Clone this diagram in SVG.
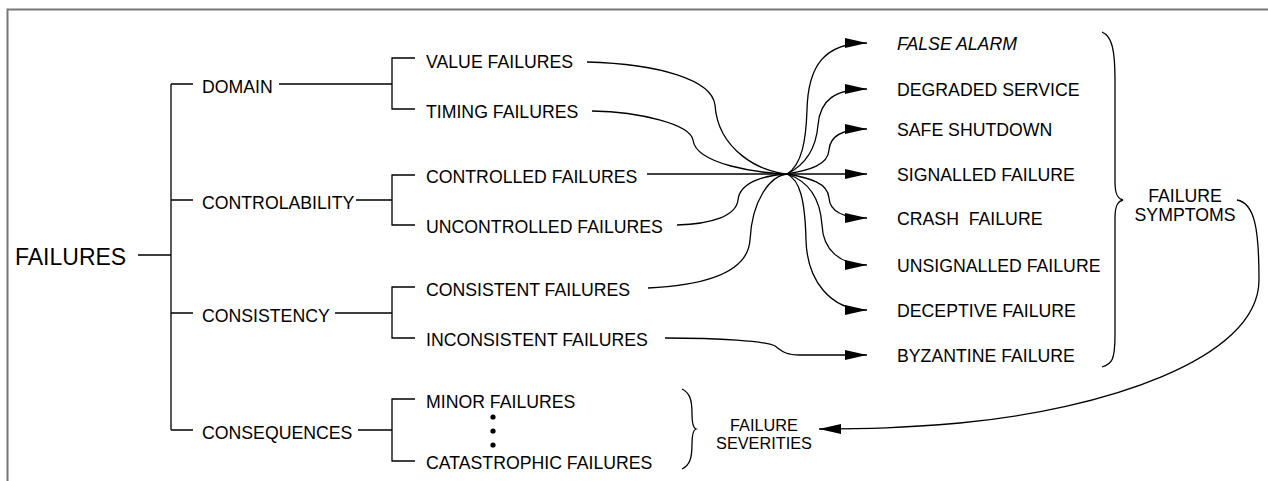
<svg xmlns="http://www.w3.org/2000/svg" width="1268" height="481" viewBox="0 0 1268 481">
<defs>
<style>
text{font-family:"Liberation Sans",Arial,sans-serif;font-size:17.7px;fill:#000;white-space:pre}
.big{font-size:23px}
.sm{font-size:16.3px}
.ln{fill:none;stroke:#000;stroke-width:1.3}
.mid{text-anchor:middle}
</style>
<marker id="ah" viewBox="0 0 22 10" refX="22" refY="5" markerWidth="22" markerHeight="10" markerUnits="userSpaceOnUse" orient="auto">
<path d="M0,0 L22,5 L0,10 Z" fill="#000"/>
</marker>
</defs>
<rect x="0" y="0" width="1268" height="481" fill="#fff"/>
<rect x="7.5" y="9.5" width="1275" height="480" fill="none" stroke="#777" stroke-width="2"/>

<g id="tree">
<path class="ln" d="M138,255 H171 M171,84 V430 M171,84 H193 M171,200 H193 M171,313 H193 M171,430 H193"/>
<path class="ln" d="M279,84 H392 M356,200 H392 M335,313 H392 M358,430 H392"/>
<path class="ln" d="M415,58 H392 V109 H415 M415,175 H392 V225 H415 M415,287 H392 V338 H415 M415,399 H392 V461 H415"/>
</g>

<g id="n-failures"><text class="big" x="15" y="265">FAILURES</text></g>
<g id="n-domain"><text x="202" y="93">DOMAIN</text></g>
<g id="n-controlability"><text x="202" y="209">CONTROLABILITY</text></g>
<g id="n-consistency"><text x="202" y="322">CONSISTENCY</text></g>
<g id="n-consequences"><text x="202" y="439">CONSEQUENCES</text></g>

<g id="n-value"><text x="426" y="68">VALUE FAILURES</text></g>
<g id="n-timing"><text x="426" y="118">TIMING FAILURES</text></g>
<g id="n-controlled"><text x="426" y="183">CONTROLLED FAILURES</text></g>
<g id="n-uncontrolled"><text x="426" y="233">UNCONTROLLED FAILURES</text></g>
<g id="n-consistent"><text x="426" y="296">CONSISTENT FAILURES</text></g>
<g id="n-inconsistent"><text x="426" y="346">INCONSISTENT FAILURES</text></g>
<g id="n-minor"><text x="426" y="408">MINOR FAILURES</text></g>
<g id="n-dots"><circle cx="493" cy="417" r="2.6"/><circle cx="493" cy="431" r="2.6"/><circle cx="493" cy="445" r="2.6"/></g>
<g id="n-catastrophic"><text x="426" y="469">CATASTROPHIC FAILURES</text></g>

<g id="n-severities">
<path class="ln" d="M682,389 C690,393 692,400 692,414 C692,424 693,428 696,429 C693,430 692,434 692,444 C692,458 690,465 682,469"/>
<text class="mid sm" x="764" y="431">FAILURE</text>
<text class="mid sm" x="764" y="449">SEVERITIES</text>
</g>

<g id="n-false-alarm"><text x="897" y="50" font-style="italic">FALSE ALARM</text></g>
<g id="n-degraded"><text x="897" y="96">DEGRADED SERVICE</text></g>
<g id="n-safe"><text x="897" y="136">SAFE SHUTDOWN</text></g>
<g id="n-signalled"><text x="897" y="181">SIGNALLED FAILURE</text></g>
<g id="n-crash"><text x="897" y="225">CRASH  FAILURE</text></g>
<g id="n-unsignalled"><text x="897" y="272">UNSIGNALLED FAILURE</text></g>
<g id="n-deceptive"><text x="897" y="317">DECEPTIVE FAILURE</text></g>
<g id="n-byzantine"><text x="897" y="362">BYZANTINE FAILURE</text></g>

<g id="n-symptoms">
<path class="ln" d="M1102,32 C1112,36 1115,50 1115,80 L1115,182 C1115,195 1118,199 1123,200 C1118,201 1115,205 1115,218 L1115,335 C1115,360 1112,364 1102,367"/>
<text class="mid" x="1185" y="202">FAILURE</text>
<text class="mid" x="1185" y="221">SYMPTOMS</text>
</g>

<g id="connectors">
<path class="ln" d="M587,62 C660,64 712,80 715,105 C718,150 760,172 787,174"/>
<path class="ln" d="M592,111 C640,112 690,124 693,140 C696,165 760,173 787,174"/>
<path class="ln" d="M677,225 C712,224 736,216 738,200 C740,180 770,175 787,174"/>
<path class="ln" d="M648,288 C712,285 748,270 750,240 C752,200 770,176 787,174"/>
<path class="ln" d="M647,174 H867" marker-end="url(#ah)"/>
<path class="ln" d="M787,174 C802,165 806,140 807,110 C808,65 825,43 867,43" marker-end="url(#ah)"/>
<path class="ln" d="M787,174 C805,165 816,150 818,125 C820,100 835,89 867,89" marker-end="url(#ah)"/>
<path class="ln" d="M787,174 C810,170 828,165 829,150 C830,135 845,129 867,129" marker-end="url(#ah)"/>
<path class="ln" d="M787,174 C810,178 828,183 829,198 C830,212 845,218 867,218" marker-end="url(#ah)"/>
<path class="ln" d="M787,174 C805,180 820,195 822,225 C823,250 840,265 867,265" marker-end="url(#ah)"/>
<path class="ln" d="M787,174 C800,180 805,200 806,240 C807,280 830,310 867,310" marker-end="url(#ah)"/>
<path class="ln" d="M665,338 C720,338 765,341 775,346 C782,351 785,355 800,355 L867,355" marker-end="url(#ah)"/>
<path class="ln" d="M1237,200 C1255,203 1259,230 1259,280 C1259,360 1100,410 960,423 C900,428 870,429 819,429" marker-end="url(#ah)"/>
</g>
</svg>
